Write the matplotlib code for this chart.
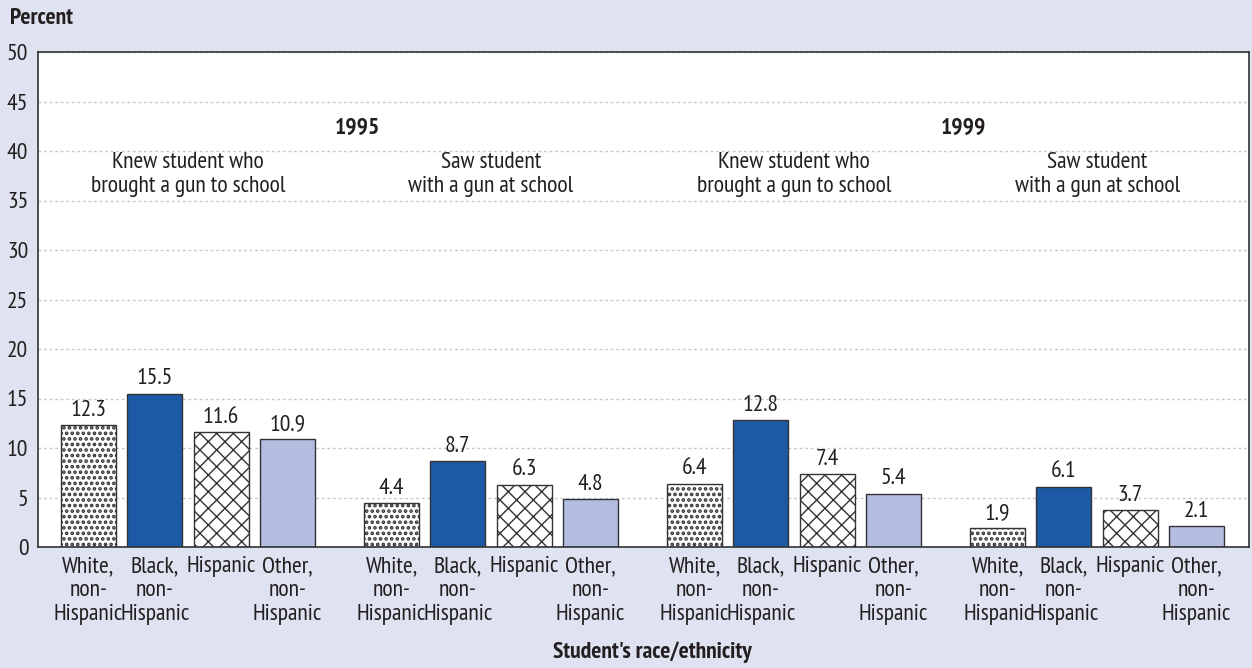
import matplotlib.pyplot as plt
import numpy as np

# Data
groups = ["Knew student who\nbrought a gun to school", "Saw student\nwith a gun at school",
          "Knew student who\nbrought a gun to school", "Saw student\nwith a gun at school"]
years = ["1995", "1999"]
races = ["White,\nnon-\nHispanic", "Black,\nnon-\nHispanic", "Hispanic", "Other,\nnon-\nHispanic"]
values = [
    [12.3, 15.5, 11.6, 10.9],  # 1995 knew
    [4.4, 8.7, 6.3, 4.8],      # 1995 saw
    [6.4, 12.8, 7.4, 5.4],     # 1999 knew
    [1.9, 6.1, 3.7, 2.1],      # 1999 saw
]
yticks = [0, 5, 10, 15, 20, 25, 30, 35, 40, 45, 50]

# Styling
bg = '#dfe2f0'
txt = '#231f20'
fills = ['white', '#1c5aa5', 'white', '#b3bddf']
hatches = ['...', None, 'xx', None]
hatch_lw = [1.8, 1.0, 1.0, 1.0]

plt.rcParams['font.family'] = ['PT Sans Narrow', 'DejaVu Sans']
plt.rcParams['hatch.linewidth'] = 1.0
fs = 17

fig = plt.figure(figsize=(12.52, 6.68), dpi=100, facecolor=bg)
ax = fig.add_axes([38 / 1252, 1 - 547 / 668, (1249 - 38) / 1252, (547 - 52) / 668])
ax.set_facecolor('white')

gap = 4.57
width = 0.83
for g, vals in enumerate(values):
    for i, v in enumerate(vals):
        x = g * gap + i
        with plt.rc_context({'hatch.linewidth': hatch_lw[i]}):
            bars = ax.bar(x, v, width=width, color=fills[i], hatch=hatches[i],
                          edgecolor='#333333', linewidth=1.0, zorder=2)
        for b in bars:
            if hasattr(b, 'set_hatch_linewidth'):
                b.set_hatch_linewidth(hatch_lw[i])
        ax.annotate(f"{v:.1f}", (x, v), xytext=(0, 3), textcoords='offset points',
                    ha='center', va='bottom', fontsize=fs, color=txt)
        ax.text(x, -0.9, races[i], ha='center', va='top', fontsize=fs,
                color=txt, linespacing=1.2)
    # subgroup titles
    ax.text(g * gap + 1.5, 37.6, groups[g], ha='center', va='center',
            fontsize=fs, color=txt, linespacing=1.2)

# year headings
for k, yr in enumerate(years):
    mid = ((2 * k) * gap + (2 * k + 1) * gap) / 2 + 1.5 + 0.27
    ax.text(mid, 42.3, yr, ha='center', va='center', fontsize=fs,
            fontweight='bold', color=txt)

ax.set_xlim(-0.76, 17.5)
ax.set_ylim(0, 50)
ax.set_yticks(yticks)
ax.set_yticklabels([str(t) for t in yticks], fontsize=fs, color=txt)
ax.tick_params(axis='y', length=0, pad=7)
ax.set_xticks([])
ax.yaxis.grid(True, linestyle=(0, (2, 2)), color='#c8c8c8', linewidth=1.0, zorder=0)
ax.set_axisbelow(True)
for s in ax.spines.values():
    s.set_color('#333333')
    s.set_linewidth(1.2)

fig.text(10 / 1252, 1 - 18 / 668, "Percent", ha='left', va='center',
         fontsize=fs, fontweight='bold', color=txt)
fig.text(652 / 1252, 1 - 652 / 668, "Student's race/ethnicity", ha='center',
         va='center', fontsize=fs, fontweight='bold', color=txt)

fig.savefig('out.png', dpi=100, facecolor=bg)
